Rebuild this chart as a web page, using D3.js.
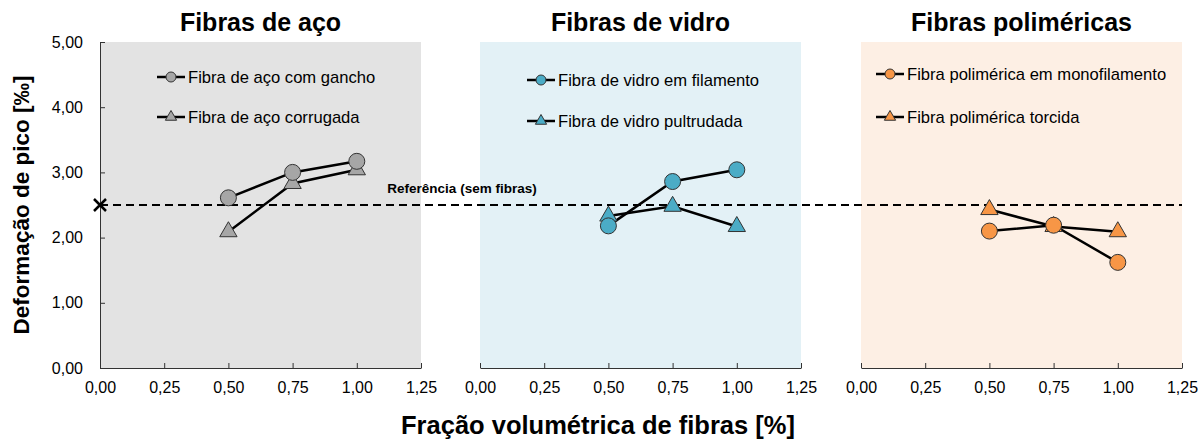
<!DOCTYPE html>
<html>
<head>
<meta charset="utf-8">
<script src="https://cdn.jsdelivr.net/npm/d3@7"></script>
<style>
  body { margin: 0; background: #fff; }
  svg { font-family: "Liberation Sans", Arial, sans-serif; }
  .tick text { font-size: 16px; fill: #000; }
</style>
</head>
<body>
<svg id="chart" width="1203" height="442"></svg>
<script>
// Data
const fractions = [0.5, 0.75, 1.0];
const xTicks = [0, 0.25, 0.5, 0.75, 1.0, 1.25];
const yTicks = [0, 1, 2, 3, 4, 5];
const refValue = 2.5;

const panelTitles = ['Fibras de aço', 'Fibras de vidro', 'Fibras poliméricas'];
const panelBg = ['#e3e3e3', '#e3f1f6', '#fdefe4'];
const markerFill = ['#a6a6a6', '#4bacc6', '#f79646'];

const circleNames = ['Fibra de aço com gancho', 'Fibra de vidro em filamento', 'Fibra polimérica em monofilamento'];
const triangleNames = ['Fibra de aço corrugada', 'Fibra de vidro pultrudada', 'Fibra polimérica torcida'];

const steelHook = [2.61, 3.00, 3.17];
const steelCorrugated = [2.09, 2.83, 3.04];
const glassFilament = [2.18, 2.86, 3.04];
const glassPultruded = [2.33, 2.48, 2.17];
const polyMono = [2.10, 2.19, 1.62];
const polyTwisted = [2.43, 2.17, 2.09];

const circleSeries = [steelHook, glassFilament, polyMono];
const triangleSeries = [steelCorrugated, glassPultruded, polyTwisted];

const fmt = v => d3.format('.2f')(v).replace('.', ',');

const svg = d3.select('#chart');
const plotTop = 42, plotBottom = 368, panelW = 321;
const panelX = [100, 480, 861];
const legendPos = [[157, 77, 117], [527, 80, 121], [876, 74, 117]];

const y = d3.scaleLinear().domain([0, 5]).range([plotBottom, plotTop]);
const xs = panelX.map(x0 => d3.scaleLinear().domain([0, 1.25]).range([x0, x0 + panelW]));

const tri = s => d3.symbol().type(d3.symbolTriangle).size(s)();

// Panel backgrounds
panelX.forEach((x0, i) => {
    svg.append('rect')
        .attr('x', x0).attr('y', plotTop)
        .attr('width', panelW).attr('height', plotBottom - plotTop)
        .attr('fill', panelBg[i]);
});

// Reference line (no fibres)
svg.append('line')
    .attr('x1', xs[0](0)).attr('x2', xs[2](1.25))
    .attr('y1', y(refValue)).attr('y2', y(refValue))
    .attr('stroke', '#000').attr('stroke-width', 2)
    .attr('stroke-dasharray', '8,5');

svg.append('text')
    .attr('x', 462).attr('y', 193)
    .attr('text-anchor', 'middle')
    .attr('font-size', 13.5).attr('font-weight', 'bold')
    .text('Referência (sem fibras)');

// Axes
panelX.forEach((x0, i) => {
    const xAxis = svg.append('g')
        .attr('transform', `translate(0,${plotBottom})`)
        .call(d3.axisBottom(xs[i]).tickValues(xTicks).tickFormat(fmt).tickSizeInner(-5).tickSizeOuter(0));
    xAxis.select('.domain').attr('stroke', '#333');
    xAxis.selectAll('.tick line').attr('stroke', '#333');
    xAxis.selectAll('.tick text')
        .attr('y', 14).attr('dy', '0.71em');

    svg.append('text')
        .attr('x', x0 + panelW / 2).attr('y', 31)
        .attr('text-anchor', 'middle')
        .attr('font-size', 25).attr('font-weight', 'bold')
        .text(panelTitles[i]);
});

const yAxis = svg.append('g')
    .attr('transform', `translate(${panelX[0]},0)`)
    .call(d3.axisLeft(y).tickValues(yTicks).tickFormat(fmt).tickSizeInner(-5).tickSizeOuter(0));
yAxis.select('.domain').attr('stroke', '#333');
yAxis.selectAll('.tick line').attr('stroke', '#333');
yAxis.selectAll('.tick text')
    .attr('x', -17);
svg.selectAll('g').attr('font-family', null).attr('font-size', null);

// Axis titles
svg.append('text')
    .attr('transform', `translate(29,${(plotTop + plotBottom) / 2}) rotate(-90)`)
    .attr('text-anchor', 'middle')
    .attr('font-size', 22.5).attr('font-weight', 'bold')
    .text('Deformação de pico [‰]');

svg.append('text')
    .attr('x', 598).attr('y', 434)
    .attr('text-anchor', 'middle')
    .attr('font-size', 25.5).attr('font-weight', 'bold')
    .text('Fração volumétrica de fibras [%]');

// Reference marker (x) at zero fibre
const rx = xs[0](0), ry = y(refValue);
svg.append('path')
    .attr('d', `M${rx - 6},${ry - 6}L${rx + 6},${ry + 6}M${rx - 6},${ry + 6}L${rx + 6},${ry - 6}`)
    .attr('stroke', '#000').attr('stroke-width', 2.5);

// Series
const line = x => d3.line().x((d, j) => x(fractions[j])).y(d => y(d));

panelX.forEach((x0, i) => {
    const x = xs[i];
    const g = svg.append('g');

    [circleSeries[i], triangleSeries[i]].forEach(data => {
        g.append('path')
            .datum(data)
            .attr('d', line(x))
            .attr('fill', 'none')
            .attr('stroke', '#000')
            .attr('stroke-width', 2.5);
    });

    g.selectAll('.tri')
        .data(triangleSeries[i])
        .join('path')
        .attr('transform', (d, j) => `translate(${x(fractions[j])},${y(d)})`)
        .attr('d', tri(130))
        .attr('fill', markerFill[i])
        .attr('stroke', '#333').attr('stroke-width', 1);

    g.selectAll('.circ')
        .data(circleSeries[i])
        .join('circle')
        .attr('cx', (d, j) => x(fractions[j]))
        .attr('cy', d => y(d))
        .attr('r', 8)
        .attr('fill', markerFill[i])
        .attr('stroke', '#333').attr('stroke-width', 1);

    // Legend
    const [lx, ly1, ly2] = legendPos[i];
    [[ly1, circleNames[i], 'c'], [ly2, triangleNames[i], 't']].forEach(([ly, name, kind]) => {
        const lg = svg.append('g');
        lg.append('line')
            .attr('x1', lx).attr('x2', lx + 28)
            .attr('y1', ly).attr('y2', ly)
            .attr('stroke', '#000').attr('stroke-width', 2.5);
        if (kind === 'c') {
            lg.append('circle')
                .attr('cx', lx + 14).attr('cy', ly).attr('r', 5)
                .attr('fill', markerFill[i]).attr('stroke', '#333').attr('stroke-width', 1);
        } else {
            lg.append('path')
                .attr('transform', `translate(${lx + 14},${ly})`)
                .attr('d', tri(55))
                .attr('fill', markerFill[i]).attr('stroke', '#333').attr('stroke-width', 1);
        }
        lg.append('text')
            .attr('x', lx + 31).attr('y', ly)
            .attr('dy', '0.35em')
            .attr('font-size', 16.6)
            .text(name);
    });
});
</script>
</body>
</html>
